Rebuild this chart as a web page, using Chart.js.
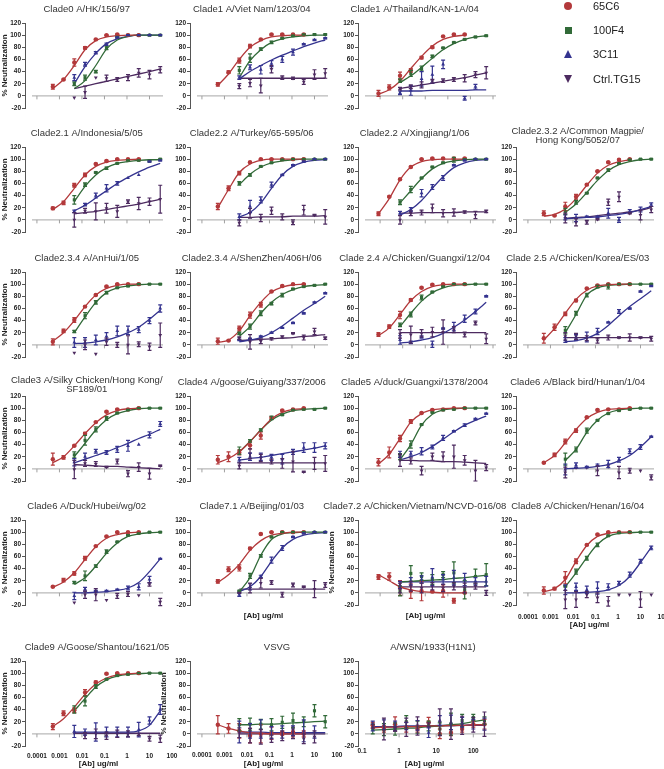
<!DOCTYPE html>
<html>
<head>
<meta charset="utf-8">
<script src="https://cdn.jsdelivr.net/npm/chart.js@4.4.1/dist/chart.umd.min.js"></script>
<style>
  html, body { margin: 0; padding: 0; background: #fff; }
  #fig { position: relative; width: 664px; height: 769px; overflow: hidden;
         font-family: "Liberation Sans", Arial, sans-serif; }
  #fig canvas { position: absolute; }
  .lgText { position: absolute; left: 593px; font-size: 11px; color: #222; line-height: 12px; }
  .lgSym { position: absolute; width: 0; height: 0; }
</style>
</head>
<body>
<div id="fig"></div>
<script>
// dilution series (ug/ml)
const conc30 = [0.000508, 0.00152, 0.00457, 0.0137, 0.0412, 0.123, 0.370, 1.11, 3.33, 10, 30];
const conc50 = [0.000847, 0.00254, 0.00762, 0.0229, 0.0686, 0.206, 0.617, 1.85, 5.56, 16.7, 50];
const concWSN = [0.195, 0.39, 0.78, 1.56, 3.13, 6.25, 12.5, 25, 50, 100, 200];

const xTickValues = [0.0001, 0.001, 0.01, 0.1, 1, 10, 100];
const yTickValues = [-20, 0, 20, 40, 60, 80, 100, 120];

const titles = [
  'Clade0 A/HK/156/97', 'Clade1 A/Viet Nam/1203/04', 'Clade1 A/Thailand/KAN-1A/04',
  'Clade2.1 A/Indonesia/5/05', 'Clade2.2 A/Turkey/65-595/06', 'Clade2.2 A/Xingjiang/1/06',
  'Clade2.3.2 A/Common Magpie/\nHong Kong/5052/07',
  'Clade2.3.4 A/AnHui/1/05', 'Clade2.3.4 A/ShenZhen/406H/06', 'Clade 2.4 A/Chicken/Guangxi/12/04',
  'Clade 2.5 A/Chicken/Korea/ES/03',
  'Clade3 A/Silky Chicken/Hong Kong/\nSF189/01', 'Clade4 A/goose/Guiyang/337/2006',
  'Clade5 A/duck/Guangxi/1378/2004', 'Clade6 A/Black bird/Hunan/1/04',
  'Clade6 A/Duck/Hubei/wg/02', 'Clade7.1 A/Beijing/01/03', 'Clade7.2 A/Chicken/Vietnam/NCVD-016/08',
  'Clade8 A/Chicken/Henan/16/04',
  'Clade9 A/Goose/Shantou/1621/05', 'VSVG', 'A/WSN/1933(H1N1)'
];
const panelRow = [0,0,0, 1,1,1,1, 2,2,2,2, 3,3,3,3, 4,4,4,4, 5,5,5];
const panelCol = [0,1,2, 0,1,2,3, 0,1,2,3, 0,1,2,3, 0,1,2,3, 0,1,2];

const seriesNames = ['65C6', '100F4', '3C11', 'Ctrl.TG15'];

// 65C6 (first points of the dilution), others use the last points
const mean65C6 = [
  [15,27,55,79,93,100,101,100,100],
  [19,39,58,82,93,101,101,101,101],
  [4,14,33,42,63,80,98,101,101],
  [19,28,57,74,92,97,100,100,100],
  [22,52,77,95,100,100,100,100,100],
  [10,38,67,87,100,101,101,101,101],
  [11,7,22,38,58,80,95,99,100],
  [5,23,41,63,82,96,100,100,100],
  [6,7,27,49,66,88,97,100,100],
  [17,30,49,74,94,99,100,100,100],
  [11,29,51,73,93,98,100,100,100],
  [16,19,38,58,77,94,98,98,100],
  [15,20,27,39,55,84,96,98,100],
  [11,27,50,78,92,97,98,100,100],
  [10,23,45,63,85,97,98,98,100],
  [10,21,32,57,77,93,100,100,100],
  [19,39,41,73,97,100,100,100,100],
  [26,27,8,3,3,2,3,-13,0],
  [4,7,25,52,79,96,100,100,100],
  [12,34,39,68,85,99,100,100,100],
  [15,9,5,-3,0,1,1,3,0],
  [14,8,16,11,8,19,0,2,8,16,16]
];
const err65C6 = [
  [4,1,6,2,1,1,1,1,1], [3,2,4,3,1,1,1,1,1], [5,4,6,3,2,2,1,1,1],
  [2,3,3,3,1,1,1,1,1], [5,4,3,1,1,1,1,1,1], [3,1,1,1,1,1,1,1,1], [4,1,7,4,1,1,1,1,1],
  [5,3,4,1,1,1,1,1,1], [5,1,4,5,4,1,1,1,1], [3,3,6,2,1,1,1,1,1], [8,5,3,2,1,1,1,1,1],
  [10,3,1,2,1,1,1,1,1], [7,8,4,6,6,2,1,1,1], [6,9,5,3,1,1,1,1,1], [1,3,4,3,1,1,1,1,1],
  [1,3,3,3,1,1,1,1,1], [3,4,5,2,1,1,1,1,1], [4,6,12,12,16,1,10,4,1], [6,2,10,4,1,1,1,1,1],
  [5,4,4,5,2,1,1,1,1], [15,8,12,12,15,10,3,8,5], [5,5,12,8,5,8,8,5,5,5,8]
];
const fit65C6 = [
  [12,27,50,76,91,97,99,100,100], [17,36,60,80,91,97,99,100,100], [3,10,24,45,65,82,93,98,100],
  [17,30,52,74,88,95,98,99,100], [20,50,78,92,98,100,100,100,100], [10,35,66,87,96,99,100,100,100],
  [6,9,18,35,57,77,90,96,99],
  [6,20,40,63,82,93,98,100,100], [4,8,23,48,70,87,95,99,100], [15,28,50,73,88,96,99,100,100],
  [8,27,52,75,90,97,99,100,100],
  [10,20,38,58,76,89,96,99,100], [10,17,28,45,64,82,93,98,99], [8,24,50,77,91,97,99,100,100],
  [10,22,43,65,83,93,98,99,100],
  [9,18,33,55,76,90,96,99,100], [17,30,47,70,86,95,98,100,100], [30,20,10,5,2,1,0,0,0],
  [2,7,22,52,78,93,98,100,100],
  [12,25,44,65,82,92,97,99,100], [15,9,5,2,1,0,0,0,0], [10,11,11,12,12,13,13,14,14,15,15]
];

const mean100F4 = [
  [20,30,40,79,97,100,100,100,100],
  [42,62,77,88,95,99,101,101,101],
  [25,37,45,65,79,88,93,97,99],
  [33,58,78,85,93,98,98,97,100],
  [60,74,88,94,99,100,100,100,100],
  [29,50,69,87,94,99,100,100,100],
  [14,29,44,69,82,93,99,100,100],
  [22,48,70,86,94,97,100,100,100],
  [19,30,52,68,82,92,96,98,100],
  [33,50,78,87,96,100,100,100,100],
  [24,52,82,96,96,100,100,100,100],
  [23,47,65,83,92,97,100,100,100],
  [30,46,64,84,89,97,98,98,100],
  [20,40,73,93,97,98,100,100,100],
  [16,32,63,80,91,96,98,100,100],
  [17,28,44,68,84,95,98,100,100],
  [3,28,61,92,100,100,100,100,100],
  [3,32,27,22,30,33,5,27,30],
  [11,35,57,79,94,99,100,100,100],
  [40,54,78,90,96,98,100,100,100],
  [15,16,16,15,19,22,20,38,20],
  [8,7,8,20,11,13,8,16,22,27,22]
];
const err100F4 = [
  [3,4,2,3,1,1,1,1,1], [6,7,2,2,1,1,1,1,1], [3,5,4,2,1,1,1,1,1],
  [7,3,1,2,1,1,1,1,1], [3,2,1,1,1,1,1,1,1], [4,5,1,1,1,4,1,1,1], [5,3,1,1,2,1,1,1,1],
  [2,5,3,2,1,1,1,1,1], [2,4,4,2,3,1,1,1,1], [3,4,4,1,1,1,1,1,1], [6,3,3,2,4,1,1,1,1],
  [5,8,4,3,1,1,1,1,1], [6,2,2,3,1,1,1,1,1], [5,6,1,1,1,1,1,1,1], [10,4,4,1,1,1,1,1,1],
  [2,8,2,3,1,1,1,1,1], [1,4,2,1,1,1,1,1,1], [8,13,6,8,5,18,15,12,18], [1,4,3,3,1,1,1,1,1],
  [6,8,3,1,1,1,1,1,1], [10,10,8,10,10,12,8,10,10], [8,10,10,10,10,8,10,18,10,5,6]
];
const fit100F4 = [
  [12,25,50,77,92,98,100,100,100], [30,58,76,88,94,97,99,100,100], [22,33,47,62,76,86,93,97,99],
  [30,55,74,86,93,96,98,99,99], [58,75,87,94,97,99,100,100,100], [28,48,68,84,93,97,99,100,100],
  [12,26,45,65,81,91,96,99,100],
  [20,46,70,86,94,97,99,100,100], [14,30,52,70,83,91,96,98,99], [30,52,72,86,94,98,99,100,100],
  [20,50,82,94,98,99,100,100,100],
  [20,42,64,81,91,96,99,100,100], [28,45,64,80,90,96,98,99,100], [15,40,72,90,97,99,100,100,100],
  [14,32,60,80,92,97,99,100,100],
  [14,25,44,65,82,93,97,99,100], [2,25,62,88,97,99,100,100,100], [18,19,20,21,22,24,25,27,29],
  [10,33,58,80,93,98,99,100,100],
  [38,58,77,89,95,98,99,100,100], [15,15,16,16,17,18,19,20,21], [6,7,8,9,10,12,13,15,17,20,23]
];

const mean3C11 = [
  [30,52,71,85,96,100,100,100,100],
  [30,47,43,53,60,72,85,92,95],
  [5,9,28,35,52,null,-4,15,null],
  [14,25,40,52,60,69,74,96,98],
  [5,22,33,58,74,90,96,100,100],
  [11,17,44,54,69,90,98,100,100],
  [4,3,5,5,11,0,14,17,25],
  [4,4,8,14,23,24,25,40,60],
  [8,10,14,20,28,36,52,70,85],
  [8,4,13,1,27,30,43,55,80],
  [8,12,13,22,37,55,60,88,97],
  [11,20,29,27,32,38,40,56,74],
  [15,20,20,19,16,28,35,35,38],
  [24,25,29,36,51,62,72,82,91],
  [-1,6,3,6,8,15,29,36,53],
  [-5,6,3,3,5,8,10,22,56],
  [-3,10,27,54,74,92,98,100,100],
  [13,19,22,26,22,25,22,19,19],
  [5,10,5,8,10,16,30,52,74],
  [4,3,3,3,3,3,7,22,40],
  [3,5,8,2,3,5,5,3,null],
  [13,15,13,13,14,2,22,19,19,16,16]
];
const err3C11 = [
  [5,3,2,2,1,1,1,1,1], [3,4,7,5,5,5,1,1,1], [3,8,12,14,7,0,3,4,0],
  [2,2,4,6,3,0,0,1,1], [5,10,5,4,1,1,1,1,1], [3,3,6,4,4,1,1,1,1], [4,6,1,1,8,4,3,4,3],
  [8,8,8,6,8,7,5,5,6], [1,1,1,1,1,1,1,1,1], [7,2,2,5,1,7,6,4,1], [4,5,8,5,1,3,1,1,1],
  [6,6,3,3,5,9,0,5,4], [4,6,6,5,8,4,8,8,5], [5,4,6,3,4,1,2,1,1], [9,4,1,2,6,4,4,4,1],
  [6,3,1,1,1,3,5,5,1], [3,5,2,5,4,1,1,1,1], [6,6,6,14,8,12,10,6,8], [8,6,6,10,5,3,4,3,3],
  [10,5,15,8,8,8,12,6,8], [18,12,15,10,10,8,18,10,0], [8,8,8,6,8,8,8,12,8,8,10]
];
const fit3C11 = [
  [20,48,70,86,94,98,100,100,100], [28,40,50,59,67,74,81,87,92], [8,8,8,9,9,9,9,10,10],
  [15,24,36,48,60,70,79,87,93], [5,12,28,52,74,88,95,98,99], [8,17,32,52,71,86,94,98,99],
  [2,3,4,5,7,9,12,17,22],
  [2,3,5,8,13,20,29,42,57], [5,8,12,20,31,44,57,68,80], [3,5,8,12,19,29,41,55,70],
  [5,7,11,19,32,48,63,76,89],
  [10,16,22,28,35,42,50,57,65], [14,17,19,22,25,28,31,34,38], [15,20,27,37,49,61,72,80,87],
  [0,1,2,4,7,13,22,36,53],
  [0,0,1,2,4,8,17,35,56], [2,10,27,52,74,88,95,98,99], [18,18,18,18,18,18,18,18,18],
  [0,0,1,2,5,12,27,50,75],
  [3,3,3,3,3,3,5,14,38], [3,3,3,2,2,2,2,2,2], [12,12,12,13,13,13,14,14,14,15,15]
];

const meanTG15 = [
  [-3,6,30,29,27,30,38,35,43],
  [16,21,17,44,30,29,23,35,37],
  [12,15,18,24,25,27,29,35,38],
  [0,15,14,19,14,30,27,30,34],
  [-5,11,3,15,5,-4,16,8,5],
  [0,11,12,19,11,12,13,8,14],
  [3,-4,-4,1,29,38,11,8,17],
  [-13,0,-15,5,0,0,1,-3,16],
  [11,5,6,10,13,19,12,22,11],
  [18,17,19,21,21,25,17,36,10],
  [14,14,11,7,12,12,12,12,10],
  [-1,9,8,3,12,-8,3,-8,5],
  [5,25,18,12,9,12,-5,9,9],
  [14,13,-3,20,20,20,14,-3,2],
  [-6,2,2,-3,4,-6,-3,-3,-14],
  [-16,-3,-3,-12,-5,-2,-4,14,-15],
  [0,8,16,17,-3,13,10,6,13],
  [8,11,8,11,8,11,8,11,0],
  [-11,-11,-3,-8,-14,-3,-3,-11,-3],
  [1,-3,0,-3,0,0,-1,-8,-8],
  [2,-3,-5,-8,-3,0,-8,-5,null],
  [13,8,8,11,13,15,19,16,14,15,16]
];
const errTG15 = [
  [0,10,0,5,3,5,7,7,5], [4,6,12,6,3,2,4,8,8], [2,3,5,3,3,3,6,5,10],
  [12,4,14,8,10,3,10,6,23], [5,8,6,6,5,4,8,1,12], [7,4,4,7,6,6,2,6,2], [8,6,3,1,5,8,1,8,5],
  [0,8,0,6,4,15,4,6,20], [2,12,4,2,2,1,4,5,2], [7,14,6,8,20,5,4,3,8], [6,5,4,4,4,1,6,1,4],
  [15,5,4,1,4,5,7,9,1], [5,8,6,4,8,17,1,10,13], [10,5,7,6,8,19,8,17,5], [9,0,0,8,0,10,4,0,4],
  [0,6,10,0,4,4,0,3,6], [1,8,8,3,4,3,1,14,4], [8,8,8,6,6,6,8,5,4], [15,13,5,8,8,0,0,13,0],
  [0,5,8,6,6,5,2,4,6], [8,12,12,6,8,8,8,10,0], [3,18,3,15,15,3,22,25,15,12,20]
];
const fitTG15 = [
  [12,16,20,24,28,32,36,40,44], [29,29,29,29,29,29,29,29,29], [12,15,18,21,24,27,30,34,38],
  [10,12,14,17,20,23,26,30,34], [4,4,5,5,5,6,6,6,7], [11,11,12,12,12,12,13,13,13],
  [2,4,5,7,9,11,13,16,20],
  null, [7,8,9,10,11,12,14,15,17], [20,20,20,20,20,20,20,20,20], [12,12,12,12,12,12,12,12,12],
  [7,6,5,4,4,3,2,1,0], [10,10,10,10,10,10,10,10,10], [14,14,13,13,12,12,11,10,9], null,
  null, [6,6,6,6,6,6,6,6,6], [10,10,10,10,10,10,10,10,10], null,
  [1,1,1,1,1,1,1,1,1], [0,0,0,0,0,0,0,0,0], [11,11,12,12,12,13,13,13,14,14,14]
];

const means = [mean65C6, mean100F4, mean3C11, meanTG15];
const errs = [err65C6, err100F4, err3C11, errTG15];
const fits = [fit65C6, fit100F4, fit3C11, fitTG15];

// look of each series
const seriesStyle = [
  { color: '#b3393b', point: 'circle', rot: 0 },
  { color: '#316a38', point: 'rect', rot: 0 },
  { color: '#34338f', point: 'triangle', rot: 0 },
  { color: '#4d2b60', point: 'triangle', rot: 180 }
];

// page layout
const colLeft = [0, 165, 333, 491];
const rowTop = [0, 124, 249, 373, 497, 638];
const PADL = 24, PADR = 24;
const yTitlePanels = [0, 3, 7, 11, 15, 17, 19, 20];
const xAxisStyle = {
  16: { ticks: false, title: true, pad: 0, h: 16 },
  17: { ticks: true, title: true, pad: -6, h: 16 },
  18: { ticks: true, title: true, pad: 8, h: 25 },
  19: { ticks: true, title: true, pad: 6, h: 23 },
  20: { ticks: true, title: true, pad: 5, h: 23 },
  21: { ticks: true, title: true, pad: 1, h: 23 }
};
const titleDx = { 19: 72, 20: 87, 21: 75 };

Chart.defaults.font.family = '"Liberation Sans", Arial, sans-serif';
Chart.defaults.color = '#222';

const panelPlugin = {
  id: 'panel',
  beforeDatasetsDraw(chart) {
    const { ctx, chartArea: a, scales: { x, y } } = chart;
    const y0 = y.getPixelForValue(0);
    const x1 = a.left + 7, x2 = a.left + 138;
    ctx.save();
    ctx.strokeStyle = '#b9b9b9';
    ctx.lineWidth = 1.4;
    ctx.beginPath(); ctx.moveTo(x1, y0); ctx.lineTo(x2, y0); ctx.stroke();
    ctx.lineWidth = 1;
    ctx.strokeStyle = '#a0a0a0';
    xTickValues.forEach(v => {
      const px = x.getPixelForValue(v);
      if (px > x1 + 2 && px < x2 - 2) {
        ctx.beginPath(); ctx.moveTo(px, y0); ctx.lineTo(px, y0 + 3.5); ctx.stroke();
      }
    });
    ctx.restore();
  },
  afterDatasetsDraw(chart) {
    const { ctx, scales: { y } } = chart;
    ctx.save();
    ctx.lineWidth = 1.2;
    chart.data.datasets.forEach((ds, i) => {
      if (!ds.errors) return;
      const meta = chart.getDatasetMeta(i);
      ctx.strokeStyle = ds.borderColor;
      meta.data.forEach((pt, j) => {
        const e = ds.errors[j];
        if (!e) return;
        const v = ds.data[j].y;
        const yt = y.getPixelForValue(v + e), yb = y.getPixelForValue(v - e);
        ctx.beginPath();
        ctx.moveTo(pt.x, yt); ctx.lineTo(pt.x, yb);
        ctx.moveTo(pt.x - 2, yt); ctx.lineTo(pt.x + 2, yt);
        ctx.moveTo(pt.x - 2, yb); ctx.lineTo(pt.x + 2, yb);
        ctx.stroke();
      });
    });
    ctx.restore();
  },
  afterDraw(chart) {
    const { ctx, chartArea: a } = chart;
    const o = chart.options.plugins.panel;
    const lines = o.title.split('\n');
    const cx = a.left + (o.dx !== undefined ? o.dx : 0.42 * (a.right - a.left));
    ctx.save();
    ctx.font = '9.5px "Liberation Sans", Arial, sans-serif';
    ctx.fillStyle = '#333';
    ctx.textAlign = 'center';
    ctx.textBaseline = 'middle';
    if (lines.length === 1) {
      ctx.fillText(lines[0], cx, a.top - 14);
    } else {
      ctx.fillText(lines[0], cx, a.top - 16);
      ctx.fillText(lines[1], cx, a.top - 7);
    }
    ctx.restore();
  }
};

const fig = document.getElementById('fig');

titles.forEach((title, p) => {
  const row = panelRow[p], col = panelCol[p];
  const isWSN = p === 21;
  const conc = isWSN ? concWSN : (col === 2 ? conc50 : conc30);
  const xMin = isWSN ? 0.078 : (col === 2 ? 1.05e-4 : 2.95e-5);
  const xMax = isWSN ? 300 : 100;
  const ppd = isWSN ? 37 : 22.5;
  const hasYTitle = yTitlePanels.includes(p);
  const yw = hasYTitle && col > 0 ? 31 : 25;
  const xs = xAxisStyle[p] || { ticks: false, title: false, pad: 0, h: 3 };
  const plotW = Math.round(Math.log10(xMax / xMin) * ppd);
  const W = PADL + yw + plotW + PADR;
  const H = 23 + 85 + xs.h + 4;

  const canvas = document.createElement('canvas');
  canvas.width = W; canvas.height = H;
  canvas.style.width = W + 'px'; canvas.style.height = H + 'px';
  canvas.style.left = (colLeft[col] - (yw - 25) - PADL) + 'px';
  canvas.style.top = rowTop[row] + 'px';
  fig.appendChild(canvas);

  const datasets = [];
  seriesStyle.forEach((s, si) => {
    const m = means[si][p], e = errs[si][p], f = fits[si][p];
    const xv = si === 0 ? conc.slice(0, m.length) : conc.slice(conc.length - m.length);
    if (f) {
      datasets.push({
        data: f.map((v, i) => ({ x: xv[i], y: v })),
        showLine: true, borderColor: s.color, borderWidth: 1.3,
        pointRadius: 0, cubicInterpolationMode: 'monotone', order: 10 + si
      });
    }
    const pts = [], es = [];
    m.forEach((v, i) => { if (v !== null) { pts.push({ x: xv[i], y: v }); es.push(e[i]); } });
    datasets.push({
      data: pts, errors: es, showLine: false,
      pointStyle: s.point, rotation: s.rot, pointRadius: 2.2,
      backgroundColor: s.color, borderColor: s.color, borderWidth: 0, order: si
    });
  });

  new Chart(canvas, {
    type: 'scatter',
    data: { datasets },
    options: {
      responsive: false,
      animation: false,
      devicePixelRatio: window.devicePixelRatio || 1,
      layout: { padding: { top: 23, right: PADR, left: PADL, bottom: 4 } },
      plugins: {
        legend: { display: false },
        tooltip: { enabled: false },
        panel: { title, dx: titleDx[p] }
      },
      scales: {
        x: {
          type: 'logarithmic', min: xMin, max: xMax,
          grid: { display: false, drawTicks: false },
          border: { display: false },
          ticks: {
            display: xs.ticks, padding: xs.pad, maxRotation: 0, autoSkip: false,
            font: { size: 6.5, weight: 'bold' }, color: '#222',
            callback: v => String(v)
          },
          title: {
            display: xs.title, text: '[Ab] ug/ml', padding: 0,
            font: { size: 8, weight: 'bold' }, color: '#222'
          },
          afterBuildTicks: s => {
            s.ticks = xTickValues.filter(v => v >= s.min && v <= s.max).map(v => ({ value: v }));
          },
          afterFit: s => { s.height = xs.h; }
        },
        y: {
          min: -20, max: 120,
          grid: { drawOnChartArea: false, drawTicks: true, tickLength: 3, color: '#555' },
          border: { display: true, color: '#555', width: 1 },
          ticks: {
            stepSize: 20, padding: 1, font: { size: 6.5, weight: 'bold' }, color: '#222'
          },
          afterBuildTicks: s => { s.ticks = yTickValues.map(v => ({ value: v })); },
          title: {
            display: hasYTitle, text: '% Neutralization', padding: 0,
            font: { size: 8, weight: 'bold' }, color: '#222'
          },
          afterFit: s => { s.width = yw; }
        }
      }
    },
    plugins: [panelPlugin]
  });
});

// legend, top right
const legendY = [6, 30, 54, 79];
seriesNames.forEach((name, i) => {
  const s = seriesStyle[i];
  const sym = document.createElement('div');
  sym.className = 'lgSym';
  const cy = legendY[i];
  if (i === 0) {
    Object.assign(sym.style, { left: '564px', top: (cy - 4) + 'px', width: '8px', height: '8px',
      borderRadius: '50%', background: s.color });
  } else if (i === 1) {
    Object.assign(sym.style, { left: '564.5px', top: (cy - 3.5) + 'px', width: '7px', height: '7px',
      background: s.color });
  } else if (i === 2) {
    Object.assign(sym.style, { left: '563.5px', top: (cy - 4) + 'px', borderLeft: '4.5px solid transparent',
      borderRight: '4.5px solid transparent', borderBottom: '8px solid ' + s.color });
  } else {
    Object.assign(sym.style, { left: '563.5px', top: (cy - 4) + 'px', borderLeft: '4.5px solid transparent',
      borderRight: '4.5px solid transparent', borderTop: '8px solid ' + s.color });
  }
  fig.appendChild(sym);
  const t = document.createElement('div');
  t.className = 'lgText';
  t.style.top = (cy - 6) + 'px';
  t.textContent = name;
  fig.appendChild(t);
});
</script>
</body>
</html>
